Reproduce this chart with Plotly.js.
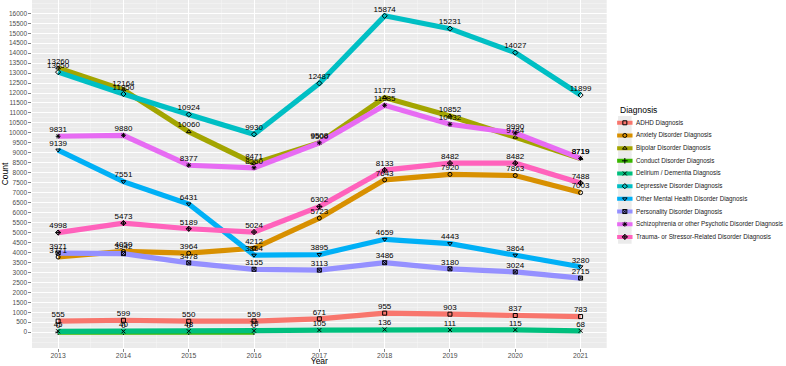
<!DOCTYPE html>
<html>
<head>
<meta charset="utf-8">
<script src="https://cdn.plot.ly/plotly-3.0.1.min.js"></script>
<style>html,body{margin:0;padding:0;background:#fff;}#chart{width:786px;height:366px;}</style>
</head>
<body>
<div id="chart"></div>
<script>
// ---- data ----
const years = [2013, 2014, 2015, 2016, 2017, 2018, 2019, 2020, 2021];
const categories = [
  "ADHD Diagnosis",
  "Anxiety Disorder Diagnosis",
  "Bipolar Disorder Diagnosis",
  "Conduct Disorder Diagnosis",
  "Delirium / Dementia Diagnosis",
  "Depressive Disorder Diagnosis",
  "Other Mental Health Disorder Diagnosis",
  "Personality Disorder Diagnosis",
  "Schizophrenia or other Psychotic Disorder Diagnosis",
  "Trauma- or Stressor-Related Disorder Diagnosis"
];
const adhd        = [555, 599, 550, 559, 671, 955, 903, 837, 783];
const anxiety     = [3771, 4050, 3964, 4212, 5723, 7643, 7920, 7863, 7003];
const bipolar     = [13260, 12164, 10060, 8471, 9508, 11773, 10852, 9784, 8719];
const conduct     = [0, 0, 0, 0, null, null, null, null, null];
const delirium    = [45, 40, 48, 73, 105, 136, 111, 115, 68];
const depressive  = [13050, 11950, 10924, 9930, 12487, 15874, 15231, 14027, 11899];
const otherMental = [9139, 7551, 6431, 3864, 3895, 4659, 4443, 3864, 3280];
const personality = [3971, 3942, 3478, 3155, 3113, 3486, 3180, 3024, 2715];
const schizo      = [9831, 9880, 8377, 8250, 9500, 11385, 10432, 9990, 8719];
const trauma      = [4998, 5473, 5189, 5024, 6302, 8133, 8482, 8482, 7488];
const yTickVals = [];
for (let v = 0; v <= 16000; v += 500) yTickVals.push(v);

// ---- styles ----
const seriesValues = [adhd, anxiety, bipolar, conduct, delirium, depressive, otherMental, personality, schizo, trauma];
const colors = ["#F8766D", "#D89000", "#A3A500", "#39B600", "#00BF7D", "#00BFC4", "#00B0F6", "#9590FF", "#E76BF3", "#FF62BC"];
const symbols = ["square-open", "circle-open", "triangle-up-open", "cross-thin-open", "x-thin-open",
                 "diamond-open", "triangle-down-open", "square-x-open", "asterisk-open", "diamond-cross-open"];
const FONT = "Liberation Sans, Arial, sans-serif";

const traces = [];
seriesValues.forEach((vals, i) => {
  traces.push({
    type: "scatter",
    x: years,
    y: vals,
    mode: "lines+markers",
    line: {color: colors[i], width: 5.2},
    marker: {symbol: symbols[i], color: "#000", size: 4, line: {width: 1, color: "#000"}},
    showlegend: false,
    hoverinfo: "skip",
    xaxis: "x", yaxis: "y"
  });
});
seriesValues.forEach((vals, i) => {
  traces.push({
    type: "scatter",
    x: years,
    y: vals,
    mode: "markers+text",
    marker: {size: 2, opacity: 0},
    text: vals.map(v => v === null ? "" : String(v)),
    textposition: "top center",
    textfont: {family: FONT, size: 8, color: "#000"},
    cliponaxis: false,
    showlegend: false,
    hoverinfo: "skip",
    xaxis: "x", yaxis: "y"
  });
});

// custom ggplot-like legend (keys) on a secondary axis pair
const legY = categories.map((c, i) => -i);
const legX = categories.map(() => 13);
traces.push({
  type: "scatter", x: legX, y: legY, mode: "markers",
  marker: {symbol: "square", size: 13.5, color: "#EBEBEB", line: {width: 0}},
  showlegend: false, hoverinfo: "skip", xaxis: "x2", yaxis: "y2"
});
traces.push({
  type: "scatter", x: legX, y: legY, mode: "markers",
  marker: {symbol: "line-ew", size: 11, color: colors, line: {width: 4, color: colors}},
  showlegend: false, hoverinfo: "skip", xaxis: "x2", yaxis: "y2"
});
traces.push({
  type: "scatter", x: legX, y: legY, mode: "markers",
  marker: {symbol: symbols, size: 4, color: "#000", line: {width: 1, color: "#000"}},
  showlegend: false, hoverinfo: "skip", xaxis: "x2", yaxis: "y2"
});

const annotations = categories.map((c, i) => ({
  xref: "x2", yref: "y2", x: 22, y: -i, text: c, showarrow: false,
  xanchor: "left", yanchor: "middle", font: {family: FONT, size: 6.3, color: "#1a1a1a"}
}));
annotations.push({
  xref: "x2", yref: "y2", x: 6, y: 1.03, text: "Diagnosis", showarrow: false,
  xanchor: "left", yanchor: "middle", font: {family: FONT, size: 8.5, color: "#000"}
});

const layout = {
  width: 786, height: 366,
  margin: {l: 32, r: 0, t: 0, b: 18.3, pad: 0},
  paper_bgcolor: "#fff",
  plot_bgcolor: "rgba(0,0,0,0)",
  font: {family: FONT, color: "#000"},
  showlegend: false,
  xaxis: {
    domain: [0, 0.7622],
    range: [2012.6, 2021.4],
    tickmode: "array", tickvals: years, ticktext: years.map(String),
    tickfont: {family: FONT, size: 6.8, color: "#4D4D4D"},
    ticks: "outside", ticklen: 2.7, tickcolor: "#333", tickwidth: 0.6,
    ticklabelstandoff: -2,
    showgrid: true, gridcolor: "#FFFFFF", gridwidth: 1,
    minor: {tickmode: "linear", tick0: 2012.5, dtick: 0.5, showgrid: true, gridcolor: "#F7F7F7", gridwidth: 0.5, ticks: ""},
    zeroline: false, showline: false,
    title: {text: "Year", font: {family: FONT, size: 8.5, color: "#000"}, standoff: 2},
    automargin: false
  },
  yaxis: {
    domain: [0, 1],
    range: [-794, 16668],
    tickmode: "array", tickvals: yTickVals, ticktext: yTickVals.map(String),
    tickfont: {family: FONT, size: 6.5, color: "#4D4D4D"},
    ticks: "outside", ticklen: 2.7, tickcolor: "#333", tickwidth: 0.6,
    showgrid: true, gridcolor: "#FFFFFF", gridwidth: 1,
    minor: {tickmode: "linear", tick0: 0, dtick: 250, showgrid: true, gridcolor: "#F7F7F7", gridwidth: 0.5, ticks: ""},
    zeroline: false, showline: false,
    title: {text: "Count", font: {family: FONT, size: 8.5, color: "#000"}, standoff: 0},
    automargin: false
  },
  xaxis2: {domain: [0.769, 1], range: [0, 174], visible: false, fixedrange: true, anchor: "y2"},
  yaxis2: {domain: [0.2954, 0.7124], range: [-9.655, 1.79], visible: false, fixedrange: true, anchor: "x2"},
  shapes: [{
    type: "rect", xref: "x domain", yref: "y domain", x0: 0, x1: 1, y0: 0, y1: 1,
    fillcolor: "#EBEBEB", line: {width: 0}, layer: "below"
  }],
  annotations: annotations
};

Plotly.newPlot("chart", traces, layout, {staticPlot: true, displayModeBar: false});
</script>
</body>
</html>
